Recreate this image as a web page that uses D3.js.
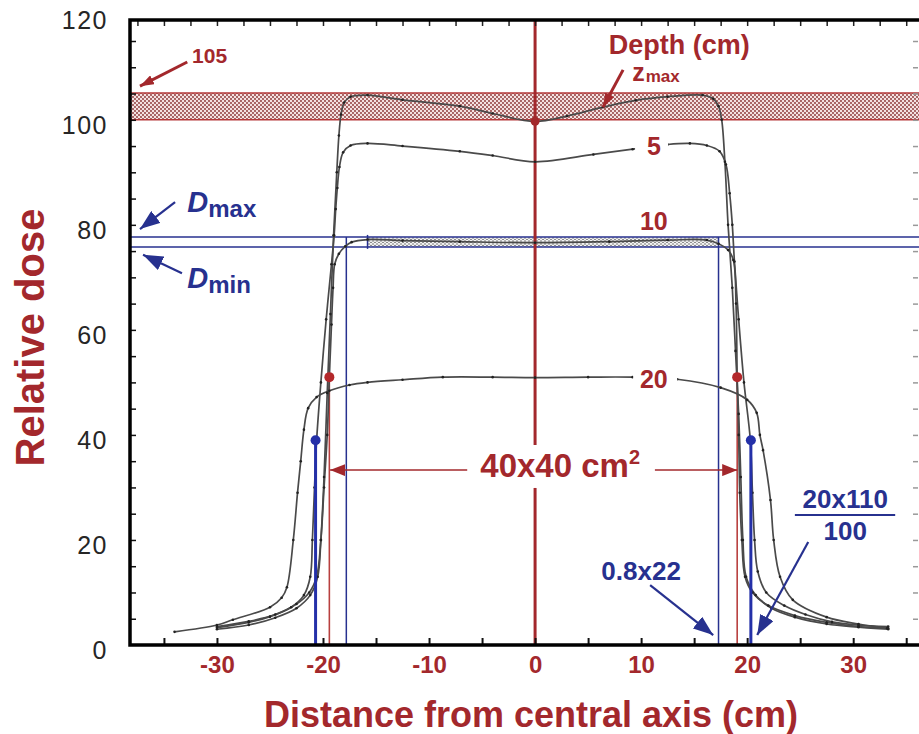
<!DOCTYPE html>
<html>
<head>
<meta charset="utf-8">
<script src="https://cdn.jsdelivr.net/npm/d3@7"></script>
<style>
  body { margin: 0; background: #fff; }
  svg { display: block; font-family: "Liberation Sans", Arial, sans-serif; }
</style>
</head>
<body>
<div id="chart"></div>
<script>
// beam profiles, [distance from central axis (cm), relative dose]
const depthZmax = [
  [-30.0, 3.0], [-27.0, 3.8], [-24.5, 5.2], [-22.5, 7.0], [-21.2, 9.5], [-20.5, 13], [-20.2, 20],
  [-19.9, 32], [-19.6, 48], [-19.3, 63], [-19.0, 78], [-18.7, 90], [-18.5, 97], [-18.3, 101],
  [-18.0, 103.3], [-17.4, 104.4], [-15.8, 104.7], [-12.5, 103.8], [-7.1, 102.6], [-4.0, 101.2],
  [0, 99.7], [3.0, 100.7], [6.4, 102.4], [9.5, 103.7], [12.5, 104.4], [15.8, 104.7], [16.8, 104.0],
  [17.3, 102.6], [17.6, 100], [17.9, 92], [18.2, 80], [18.6, 68], [18.9, 56], [19.2, 44], [19.4, 32],
  [19.6, 20], [19.9, 13], [20.8, 9.5], [22.3, 7.0], [24.5, 5.3], [27.5, 4.0], [30.5, 3.4], [33.3, 3.0]
];
const depth5 = [
  [-30.0, 3.3], [-27.0, 4.3], [-25.0, 5.4], [-23.0, 7.2], [-21.8, 9.5], [-21.2, 13], [-21.0, 20],
  [-20.8, 30], [-20.6, 39], [-20.2, 50], [-19.7, 62], [-19.2, 72.5], [-18.95, 78], [-18.8, 83],
  [-18.65, 87], [-18.45, 91], [-18.1, 93.8], [-17.4, 95.1], [-15.8, 95.5], [-12.5, 95.0], [-7.1, 94.0],
  [-4.0, 93.2], [0, 92.0], [5.5, 93.4], [9.2, 94.4], [12.5, 95.3], [14.6, 95.5], [16.2, 95.1],
  [17.4, 94.0], [18.0, 91.5], [18.35, 86], [18.6, 80], [18.8, 73], [19.2, 62], [19.7, 50], [20.3, 39],
  [20.5, 29], [20.7, 20], [21.0, 14], [21.8, 10], [23.5, 7.5], [25.5, 5.8], [28.0, 4.4], [30.5, 3.8], [33.3, 3.5]
];
const depth10 = [
  [-30.0, 3.5], [-27.0, 4.5], [-24.5, 5.8], [-22.5, 7.8], [-21.3, 10], [-20.6, 13], [-20.2, 20],
  [-19.9, 30], [-19.6, 40], [-19.4, 51], [-19.2, 61], [-19.05, 68], [-18.9, 72.5], [-18.5, 74.5],
  [-17.9, 75.9], [-17.3, 76.7], [-15.8, 77.2], [-12.5, 77.0], [-7.1, 76.8], [0, 76.6], [7.0, 76.8],
  [12.5, 77.1], [16.2, 77.1], [17.3, 76.4], [18.2, 75.2], [18.7, 73.3], [18.95, 65], [19.06, 51],
  [19.2, 40], [19.3, 29], [19.5, 20], [19.8, 13], [20.5, 10], [22.0, 7.5], [24.5, 5.6], [27.5, 4.3],
  [30.5, 3.5], [33.3, 3.2]
];
const depth20 = [
  [-34.0, 2.5], [-30.0, 3.8], [-28.5, 4.8], [-25.0, 7.2], [-23.9, 9.0], [-23.4, 11], [-22.8, 20],
  [-22.4, 29], [-22.1, 35], [-21.8, 41], [-21.4, 45.1], [-20.6, 47.2], [-19.4, 48.4], [-17.5, 49.5],
  [-15.8, 50.0], [-12.5, 50.5], [-8.7, 51.0], [-4.0, 51.0], [0, 50.9], [5.0, 51.0], [9.2, 51.0],
  [13.4, 50.6], [17.5, 49.0], [20.0, 46.7], [20.9, 44.2], [21.2, 40], [21.5, 37.1], [22.2, 27.6],
  [22.5, 20], [23.1, 13.0], [24.3, 8.6], [27.5, 5.3], [30.5, 4.0], [33.2, 3.2]
];

const xTicks = [-30, -20, -10, 0, 10, 20, 30];
const yTicks = [0, 20, 40, 60, 80, 100, 120];

const band105 = [100, 105.1];       // zmax tolerance band
const dMax = 77.7, dMin = 75.8;     // 10 cm flatness band
const hatchRange = [-15.8, 17.3];
const edge50 = [-19.4, 19.06];      // 50% points, dose 51
const edge08 = [-17.8, 17.3];       // 0.8 x 22
const edge22 = [-20.7, 20.35];      // 20 x 110 / 100, dose 39
const centralDot = 99.7;

const darkRed = '#a3282c';
const blue = '#27318f';
const curveColor = '#4a4a4a';

const width = 919, height = 734;

const svg = d3.select('#chart')
  .append('svg')
  .attr('width', width)
  .attr('height', height);

const x = d3.scaleLinear().domain([-38.2, 36.3]).range([130, 920]);
const y = d3.scaleLinear().domain([0, 119]).range([645, 20]);

// patterns
const defs = svg.append('defs');

const redDots = defs.append('pattern')
  .attr('id', 'redDots')
  .attr('patternUnits', 'userSpaceOnUse')
  .attr('width', 4).attr('height', 4);
redDots.append('rect').attr('width', 4).attr('height', 4).attr('fill', '#f4e2e2');
redDots.append('circle').attr('cx', 1).attr('cy', 1).attr('r', 0.9).attr('fill', '#862c2c');
redDots.append('circle').attr('cx', 3).attr('cy', 3).attr('r', 0.9).attr('fill', '#862c2c');

const greyDots = defs.append('pattern')
  .attr('id', 'greyDots')
  .attr('patternUnits', 'userSpaceOnUse')
  .attr('width', 4).attr('height', 3);
greyDots.append('rect').attr('width', 4).attr('height', 3).attr('fill', '#f4f4f4');
greyDots.append('circle').attr('cx', 1).attr('cy', 1).attr('r', 0.8).attr('fill', '#6a6a6a');
greyDots.append('circle').attr('cx', 3).attr('cy', 2.5).attr('r', 0.8).attr('fill', '#6a6a6a');

const defsArrow = (id, color, w, h) => {
  defs.append('marker')
    .attr('id', id)
    .attr('viewBox', `0 0 ${w} ${h}`)
    .attr('refX', w).attr('refY', h / 2)
    .attr('markerWidth', w).attr('markerHeight', h)
    .attr('markerUnits', 'userSpaceOnUse')
    .attr('orient', 'auto')
    .append('path')
    .attr('d', `M0,0L${w},${h / 2}L0,${h}Z`)
    .attr('fill', color);
};
defsArrow('arrRed', darkRed, 15, 12);
defsArrow('arrRedSmall', darkRed, 14, 10);
defsArrow('arrBlue', blue, 20, 15);

// red tolerance band
svg.append('rect')
  .attr('x', x(-38.2)).attr('y', y(band105[1]))
  .attr('width', x(36.3) - x(-38.2))
  .attr('height', y(band105[0]) - y(band105[1]))
  .attr('fill', 'url(#redDots)');
svg.selectAll('.bandEdge')
  .data(band105)
  .enter().append('line')
  .attr('x1', x(-38.2)).attr('x2', x(36.3))
  .attr('y1', d => y(d)).attr('y2', d => y(d))
  .attr('stroke', '#b5393a').attr('stroke-width', 1.5);

// 10 cm flatness band
svg.append('rect')
  .attr('x', x(hatchRange[0])).attr('y', y(dMax))
  .attr('width', x(hatchRange[1]) - x(hatchRange[0]))
  .attr('height', y(dMin) - y(dMax))
  .attr('fill', 'url(#greyDots)');
svg.append('line')
  .attr('x1', x(hatchRange[0])).attr('x2', x(hatchRange[0]))
  .attr('y1', y(dMax) - 2).attr('y2', y(dMin) + 2)
  .attr('stroke', blue).attr('stroke-width', 1.5);

svg.selectAll('.dLine')
  .data([dMax, dMin])
  .enter().append('line')
  .attr('x1', x(-38.2)).attr('x2', x(36.3))
  .attr('y1', d => y(d)).attr('y2', d => y(d))
  .attr('stroke', blue).attr('stroke-width', 1.5);

// vertical markers
svg.selectAll('.edge08')
  .data(edge08)
  .enter().append('line')
  .attr('x1', d => x(d)).attr('x2', d => x(d))
  .attr('y1', y(dMax)).attr('y2', y(0))
  .attr('stroke', blue).attr('stroke-width', 1.5);

svg.selectAll('.edge50')
  .data(edge50)
  .enter().append('line')
  .attr('x1', d => x(d)).attr('x2', d => x(d))
  .attr('y1', y(51)).attr('y2', y(0))
  .attr('stroke', '#b8403f').attr('stroke-width', 1.6);

// central axis, broken around the field size label
svg.selectAll('.central')
  .data([[119, 38.1], [29.9, 0]])
  .enter().append('line')
  .attr('x1', x(0)).attr('x2', x(0))
  .attr('y1', d => y(d[0])).attr('y2', d => y(d[1]))
  .attr('stroke', darkRed).attr('stroke-width', 3);

// profiles
const line = d3.line()
  .x(d => x(d[0]))
  .y(d => y(d[1]))
  .curve(d3.curveCatmullRom.alpha(0.5));

const profiles = [depthZmax, depth5, depth10, depth20];

svg.selectAll('.profile')
  .data(profiles)
  .enter().append('path')
  .attr('d', line)
  .attr('fill', 'none')
  .attr('stroke', curveColor)
  .attr('stroke-width', 1.7);

svg.selectAll('.pt')
  .data(profiles.flat())
  .enter().append('circle')
  .attr('cx', d => x(d[0])).attr('cy', d => y(d[1]))
  .attr('r', 1.3)
  .attr('fill', '#222');

svg.selectAll('.edge22')
  .data(edge22)
  .enter().append('line')
  .attr('x1', d => x(d)).attr('x2', d => x(d))
  .attr('y1', y(39)).attr('y2', y(0))
  .attr('stroke', '#2430a8').attr('stroke-width', 3);

svg.selectAll('.dot22')
  .data(edge22)
  .enter().append('circle')
  .attr('cx', d => x(d)).attr('cy', y(39)).attr('r', 5)
  .attr('fill', '#2430a8');

svg.selectAll('.dot50')
  .data(edge50)
  .enter().append('circle')
  .attr('cx', d => x(d)).attr('cy', y(51)).attr('r', 5)
  .attr('fill', '#b3282b');

svg.append('circle')
  .attr('cx', x(0)).attr('cy', y(centralDot)).attr('r', 4.5)
  .attr('fill', darkRed);

// depth labels on curves
const depthLabels = [
  { text: '5', x: 11.2, y: 93.3, gap: [9.43, 12.55, 97.1, 92.7] },
  { text: '10', x: 11.2, y: 79.0, gap: null },
  { text: '20', x: 11.2, y: 48.9, gap: [9.25, 13.4, 52.0, 47.2] }
];

svg.selectAll('.gap')
  .data(depthLabels.filter(d => d.gap))
  .enter().append('rect')
  .attr('x', d => x(d.gap[0])).attr('y', d => y(d.gap[2]))
  .attr('width', d => x(d.gap[1]) - x(d.gap[0]))
  .attr('height', d => y(d.gap[3]) - y(d.gap[2]))
  .attr('fill', '#fff');

svg.selectAll('.depthLabel')
  .data(depthLabels)
  .enter().append('text')
  .attr('x', d => x(d.x)).attr('y', d => y(d.y))
  .attr('text-anchor', 'middle')
  .attr('font-size', 25).attr('font-weight', 'bold')
  .attr('fill', darkRed)
  .text(d => d.text);

// arrows
function arrow(p1, p2, color, w, marker) {
  svg.append('line')
    .attr('x1', x(p1[0])).attr('y1', y(p1[1]))
    .attr('x2', x(p2[0])).attr('y2', y(p2[1]))
    .attr('stroke', color).attr('stroke-width', w)
    .attr('marker-end', `url(#${marker})`);
}

// field size arrow
arrow([-6.4, 33.3], [-19.33, 33.3], darkRed, 1.5, 'arrRed');
arrow([11.3, 33.3], [19.06, 33.3], darkRed, 1.5, 'arrRed');

const fs = svg.append('text')
  .attr('x', x(2.37)).attr('y', y(32.0))
  .attr('text-anchor', 'middle')
  .attr('font-size', 33).attr('font-weight', 'bold')
  .attr('fill', darkRed);
fs.append('tspan').text('40x40 cm');
fs.append('tspan').attr('dy', -13).attr('font-size', 20).text('2');

// Depth (cm) and zmax
svg.append('text')
  .attr('x', x(13.6)).attr('y', y(112.6))
  .attr('text-anchor', 'middle')
  .attr('font-size', 27).attr('font-weight', 'bold')
  .attr('fill', darkRed)
  .text('Depth (cm)');

const zt = svg.append('text')
  .attr('x', x(9.16)).attr('y', y(107.4))
  .attr('font-weight', 'bold')
  .attr('fill', darkRed);
zt.append('tspan').attr('font-size', 25).text('z');
zt.append('tspan').attr('font-size', 17).attr('dx', 1).attr('dy', 1).text('max');

arrow([8.3, 109.5], [6.4, 102.4], darkRed, 3, 'arrRedSmall');

// 105 label
svg.append('text')
  .attr('x', x(-32.35)).attr('y', y(110.8))
  .attr('font-size', 21).attr('font-weight', 'bold')
  .attr('fill', darkRed)
  .text('105');
arrow([-32.8, 111.0], [-37.26, 106.4], darkRed, 3, 'arrRedSmall');

// Dmax / Dmin labels
[['max', 82.4], ['min', 68.0]].forEach(([sub, v]) => {
  const t = svg.append('text')
    .attr('x', x(-32.8)).attr('y', y(v))
    .attr('font-weight', 'bold')
    .attr('fill', blue);
  t.append('tspan').attr('font-size', 29).attr('font-style', 'italic').text('D');
  t.append('tspan').attr('font-size', 24).attr('dy', 5).text(sub);
});
arrow([-33.95, 84.3], [-37.26, 79.2], blue, 2.2, 'arrBlue');
arrow([-33.3, 70.8], [-36.97, 74.3], blue, 2.2, 'arrBlue');

// 0.8x22 label
svg.append('text')
  .attr('x', x(10.0)).attr('y', y(12.4))
  .attr('text-anchor', 'middle')
  .attr('font-size', 26).attr('font-weight', 'bold')
  .attr('fill', blue)
  .text('0.8x22');
arrow([10.85, 11.4], [16.8, 1.9], blue, 2.2, 'arrBlue');

// 20x110/100 label
svg.append('text')
  .attr('x', x(29.25)).attr('y', y(26.1))
  .attr('text-anchor', 'middle')
  .attr('font-size', 26).attr('font-weight', 'bold')
  .attr('fill', blue)
  .text('20x110');
svg.append('line')
  .attr('x1', x(24.5)).attr('x2', x(33.96))
  .attr('y1', y(24.75)).attr('y2', y(24.75))
  .attr('stroke', blue).attr('stroke-width', 2);
svg.append('text')
  .attr('x', x(29.25)).attr('y', y(20.0))
  .attr('text-anchor', 'middle')
  .attr('font-size', 26).attr('font-weight', 'bold')
  .attr('fill', blue)
  .text('100');
arrow([25.76, 19.6], [20.95, 1.9], blue, 2.2, 'arrBlue');

// axes: ticks
const minorY = d3.range(5, 119, 5);

svg.append('g')
  .attr('transform', `translate(${x(-38.2)},0)`)
  .call(d3.axisRight(y).tickValues(minorY).tickSize(6).tickFormat(''))
  .call(g => g.select('.domain').remove())
  .selectAll('line').attr('stroke', '#111').attr('stroke-width', 1.5);

svg.append('g')
  .attr('transform', `translate(918,0)`)
  .call(d3.axisLeft(y).tickValues(minorY).tickSize(5).tickFormat(''))
  .call(g => g.select('.domain').remove())
  .selectAll('line').attr('stroke', '#999').attr('stroke-width', 1.5);

svg.append('g')
  .attr('transform', `translate(0,${y(0)})`)
  .call(d3.axisTop(x).tickValues(d3.range(-35, 36, 5)).tickSize(7).tickFormat(''))
  .call(g => g.select('.domain').remove())
  .selectAll('line').attr('stroke', '#111').attr('stroke-width', 2);

svg.append('g')
  .attr('transform', `translate(0,${y(119)})`)
  .call(d3.axisBottom(x).tickValues(d3.range(-37.5, 36.3, 2.5)).tickSize(6).tickFormat(''))
  .call(g => g.select('.domain').remove())
  .selectAll('line').attr('stroke', '#222').attr('stroke-width', 1.5);

// axes: labels
svg.append('g')
  .attr('transform', `translate(${x(-38.2)},0)`)
  .call(d3.axisLeft(y).tickValues(yTicks).tickSize(0).tickPadding(22).tickFormat(d => String(d)))
  .call(g => g.select('.domain').remove())
  .selectAll('text')
  .attr('dy', '0.55em')
  .attr('font-size', 25)
  .attr('letter-spacing', 1.5)
  .attr('font-family', '"Liberation Sans", Arial, sans-serif')
  .attr('fill', '#262626');

svg.append('g')
  .attr('transform', `translate(0,${y(0)})`)
  .call(d3.axisBottom(x).tickValues(xTicks).tickSize(0).tickPadding(11).tickFormat(d => String(d)))
  .call(g => g.select('.domain').remove())
  .selectAll('text')
  .attr('font-size', 24)
  .attr('font-weight', 'bold')
  .attr('font-family', '"Liberation Sans", Arial, sans-serif')
  .attr('fill', darkRed);

// frame
svg.append('path')
  .attr('d', `M${x(36.3)},${y(119)}H${x(-38.2)}V${y(0)}H${x(36.3)}`)
  .attr('fill', 'none')
  .attr('stroke', '#000')
  .attr('stroke-width', 3.5);

// axis titles
svg.append('text')
  .attr('transform', `translate(44,${(y(0) + y(119)) / 2 + 5}) rotate(-90)`)
  .attr('text-anchor', 'middle')
  .attr('font-size', 40).attr('font-weight', 'bold')
  .attr('fill', darkRed)
  .text('Relative dose');

svg.append('text')
  .attr('x', 531).attr('y', 727)
  .attr('text-anchor', 'middle')
  .attr('font-size', 36).attr('font-weight', 'bold')
  .attr('fill', darkRed)
  .text('Distance from central axis (cm)');
</script>
</body>
</html>
